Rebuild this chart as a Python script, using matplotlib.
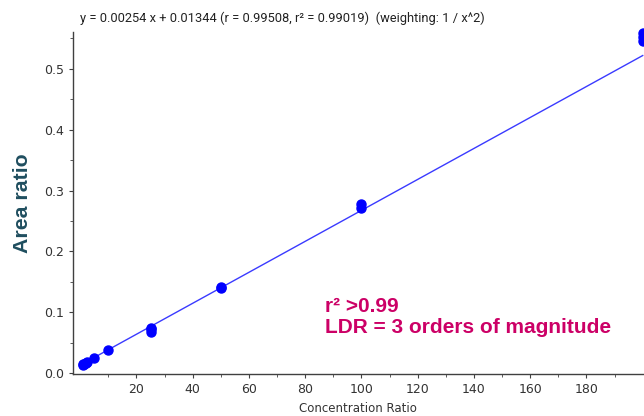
import matplotlib
matplotlib.use("Agg")
import matplotlib.pyplot as plt
import numpy as np

# Data
conc_x = [1, 1, 1.5, 2, 2.5, 5, 10, 25, 25, 25, 50, 50, 100, 100, 200, 200, 200]
area_y = [0.013, 0.015, 0.016, 0.017, 0.019, 0.026, 0.038, 0.068, 0.072, 0.075,
          0.140, 0.142, 0.272, 0.278, 0.546, 0.552, 0.558]
slope = 0.00254
intercept = 0.01344
fit_x = [0, 200]

x_ticks = [20, 40, 60, 80, 100, 120, 140, 160, 180]
y_ticks = [0.0, 0.1, 0.2, 0.3, 0.4, 0.5]

title_text = "y = 0.00254 x + 0.01344 (r = 0.99508, r² = 0.99019)  (weighting: 1 / x^2)"
note_line1 = "r² >0.99"
note_line2 = "LDR = 3 orders of magnitude"

fig = plt.figure(figsize=(6.44, 4.16), dpi=100)
ax = fig.add_axes([0.113, 0.101, 0.885, 0.822])

fit_y = [slope * v + intercept for v in fit_x]
ax.plot(fit_x, fit_y, color="#3a3aff", lw=1.0, zorder=2, clip_on=False)
ax.plot(conc_x, area_y, "o", color="#0000ff", ms=6.5, zorder=3, clip_on=False)

ax.set_xlim(-2.66, 200)
ax.set_ylim(-0.001, 0.56)
ax.set_xticks(x_ticks)
ax.set_xticks(np.arange(10, 200, 10), minor=True)
ax.set_yticks(y_ticks)
ax.set_yticks(np.arange(0.05, 0.56, 0.1), minor=True)
ax.set_yticklabels([f"{v:.1f}" for v in y_ticks])

for s in ["top", "right"]:
    ax.spines[s].set_visible(False)
for s in ["left", "bottom"]:
    ax.spines[s].set_color("#404040")
    ax.spines[s].set_linewidth(1.0)

ax.tick_params(axis="both", which="major", length=3, color="#404040",
               labelsize=9, labelcolor="#333333")
ax.tick_params(axis="both", which="minor", length=2, color="#404040")

ax.set_xlabel("Concentration Ratio", fontsize=8.5, color="#333333", labelpad=4)
ax.set_ylabel("Area ratio", fontsize=15.3, fontweight="bold", color="#1f4e5f",
              family="Liberation Sans")
ax.yaxis.set_label_coords(-0.072, 0.5)

fig.text(0.438, 0.955, title_text, ha="center", va="center",
         fontsize=9.3, color="#222222", family="Roboto")

fig.text(0.505, 0.25, note_line1, fontsize=15, fontweight="bold",
         color="#cc0066", family="Liberation Sans", ha="left", va="baseline")
fig.text(0.505, 0.20, note_line2, fontsize=15, fontweight="bold",
         color="#cc0066", family="Liberation Sans", ha="left", va="baseline")

fig.savefig("out.png", dpi=100)
